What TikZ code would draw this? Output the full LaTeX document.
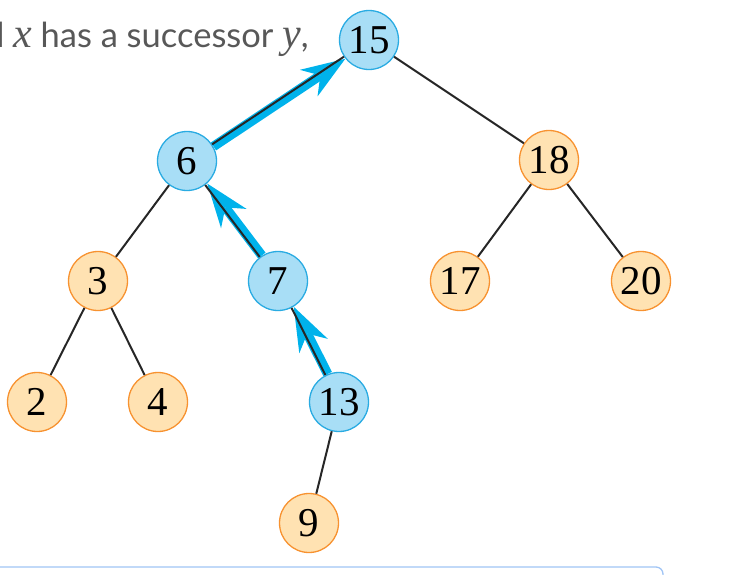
\documentclass[tikz,border=0pt]{standalone}
\usepackage{fontspec}
\setmainfont{Lato}
\newfontfamily\keyfont{Liberation Serif}
\usetikzlibrary{positioning,arrows.meta}
\definecolor{bfill}{RGB}{168,222,246}
\definecolor{bborder}{RGB}{41,171,226}
\definecolor{ofill}{RGB}{255,226,178}
\definecolor{oborder}{RGB}{247,146,48}
\definecolor{succcyan}{RGB}{0,178,235}
\definecolor{textgray}{RGB}{88,88,88}
\definecolor{framblue}{RGB}{160,196,245}
\newcommand{\var}[1]{{\keyfont\itshape\fontsize{42}{42}\selectfont #1}}

\begin{document}
\begin{tikzpicture}[x=1pt,y=1pt,node distance=121pt,on grid,
  key/.style={circle,minimum size=59pt,inner sep=0pt,line width=1.3pt,font=\keyfont\fontsize{41}{41}\selectfont},
  bkey/.style={key,draw=bborder,fill=bfill},
  okey/.style={key,draw=oborder,fill=ofill},
  tree/.style={draw=black!85,line width=2pt},
  succ/.style={draw=succcyan,line width=9.5pt,-{Stealth[length=44pt,width=32pt,inset=14pt,line width=0pt]},
    transform canvas={shift={#1}}}]
  \useasboundingbox (0,0) rectangle (736,-574);
  \clip (0,0) rectangle (736,-574);
  \node[anchor=base east,text=textgray,font=\fontsize{34.5}{40}\selectfont,inner sep=0pt] (caption) at (309,-47)
    {d \var{x} has a successor \var{y},};
  \draw[framblue,line width=1.3pt,rounded corners=7pt] (-10,-567) -| (663,-600);
	\node[bkey] (15) at (369,-40) {15};
	\node[bkey,below left=121pt and 182pt of 15] (6) {6};
	\node[okey,below right=120pt and 180pt of 15] (18) {18};
	\node[okey,below left=120pt and 89pt of 6] (3) {3};
	\node[bkey,below right=120pt and 91pt of 6] (7) {7};
	\node[okey,below left=121pt and 89pt of 18] (17) {17};
	\node[okey,below right=121pt and 92pt of 18] (20) {20};
	\node[okey,below left=121pt and 61pt of 3] (2) {2};
	\node[okey,below right=121pt and 60pt of 3] (4) {4};
	\node[bkey,below right=121pt and 61pt of 7] (13) {13};
	\node[okey,below left=121pt and 30pt of 13] (9) {9};
    \path (15) edge[tree] (18)
        (6) edge[tree] (3)
        (18) edge[tree] (17)
        (18) edge[tree] (20)
        (3) edge[tree] (2)
        (3) edge[tree] (4)
        (13) edge[tree] (9);
    \path (6) edge[succ={(1.4pt,-2.1pt)}] (15)
        (7) edge[succ={(2pt,1.5pt)}] (6)
        (13) edge[succ={(2.2pt,1.1pt)}] (7);
    \path (6) edge[tree] (15)
        (7) edge[tree] (6)
        (13) edge[tree] (7);
\end{tikzpicture}
\end{document}
